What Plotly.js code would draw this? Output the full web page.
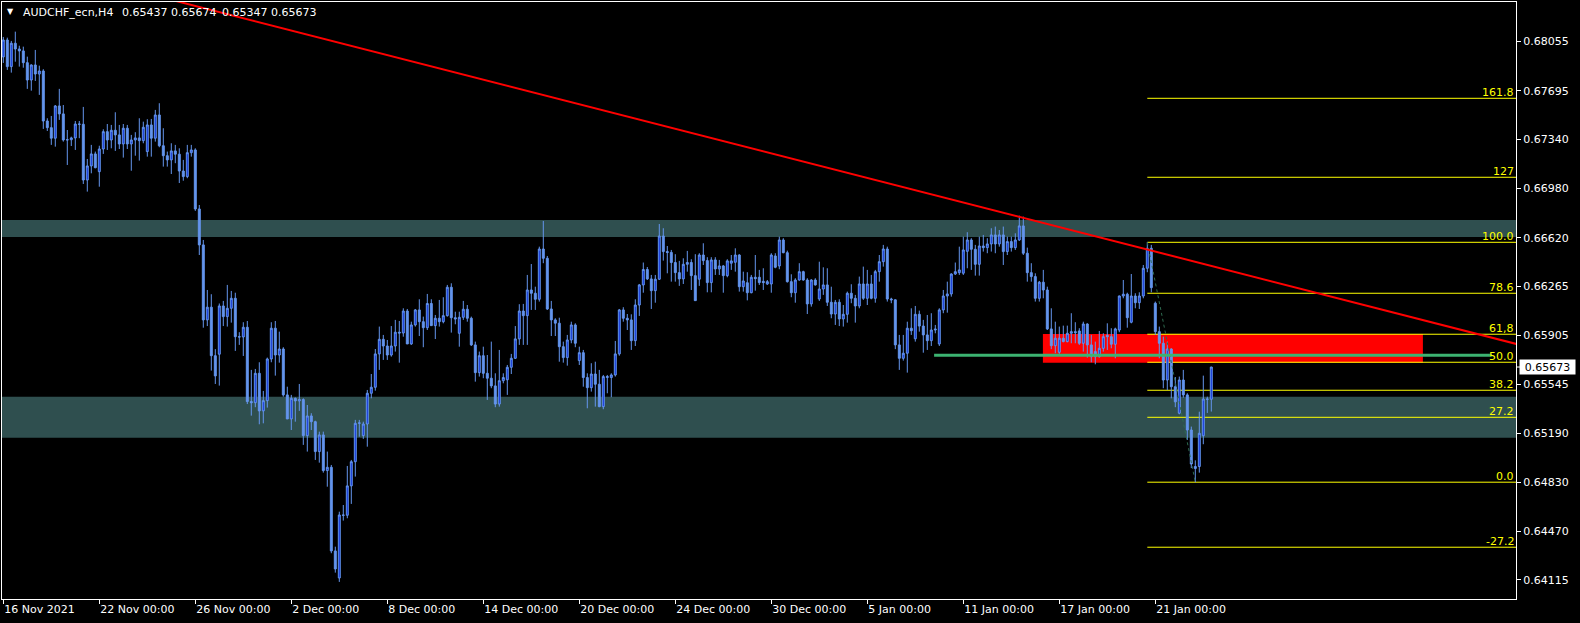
<!DOCTYPE html>
<html><head><meta charset="utf-8">
<script src="https://cdn.plot.ly/plotly-3.0.1.min.js"></script>
<style>html,body{margin:0;padding:0;background:#000;overflow:hidden}#chart{width:1580px;height:623px}</style>
</head><body><div id="chart"></div>
<script>
const symbolName = "AUDCHF_ecn,H4";
const openPrices = [0.67943,0.68067,0.67872,0.68043,0.68001,0.67987,0.67901,0.67774,0.67884,0.67818,
0.67840,0.67474,0.67425,0.67348,0.67584,0.67526,0.67335,0.67337,0.67350,0.67452,
0.67450,0.67042,0.67145,0.67233,0.67103,0.67269,0.67396,0.67335,0.67406,0.67372,
0.67306,0.67421,0.67306,0.67335,0.67350,0.67330,0.67250,0.67445,0.67348,0.67518,
0.67293,0.67220,0.67189,0.67255,0.67231,0.67108,0.67067,0.67242,0.67262,0.66830,
0.66567,0.66018,0.66111,0.65756,0.65767,0.66120,0.66042,0.66103,0.66176,0.65895,
0.65893,0.65964,0.65420,0.65412,0.65627,0.65352,0.65427,0.65732,0.65957,0.65761,
0.65805,0.65469,0.65293,0.65444,0.65425,0.65435,0.65171,0.65315,0.65273,0.65054,
0.65176,0.64915,0.64939,0.64327,0.64129,0.64590,0.64588,0.64803,0.64980,0.65261,
0.65171,0.65256,0.65481,0.65525,0.65769,0.65876,0.65827,0.65761,0.65827,0.65928,
0.65922,0.66083,0.65842,0.65981,0.66091,0.66005,0.65961,0.66138,0.65976,0.66030,
0.66005,0.66049,0.66257,0.66034,0.65920,0.66037,0.66096,0.66030,0.65835,0.65632,
0.65756,0.65627,0.65591,0.65535,0.65402,0.65573,0.65580,0.65671,0.65737,0.65879,
0.66083,0.66049,0.66237,0.66213,0.66169,0.66537,0.66469,0.66098,0.66018,0.65994,
0.65822,0.65742,0.65871,0.65981,0.65720,0.65778,0.65596,0.65522,0.65622,0.65547,
0.65383,0.65596,0.65596,0.65615,0.65769,0.66091,0.66030,0.66018,0.65866,0.66127,
0.66274,0.66387,0.66318,0.66232,0.66316,0.66632,0.66518,0.66512,0.66438,0.66364,
0.66318,0.66425,0.66438,0.66342,0.66316,0.66493,0.66452,0.66291,0.66457,0.66391,
0.66413,0.66342,0.66433,0.66440,0.66493,0.66261,0.66290,0.66217,0.66330,0.66330,
0.66300,0.66281,0.66281,0.66486,0.66413,0.66603,0.66510,0.66298,0.66217,0.66310,
0.66371,0.66310,0.66135,0.66310,0.66171,0.66244,0.66274,0.66147,0.66061,0.66147,
0.66025,0.66059,0.66213,0.66176,0.66120,0.66281,0.66176,0.66281,0.66176,0.66371,
0.66444,0.66537,0.66171,0.66165,0.65835,0.65737,0.65774,0.65957,0.65880,0.66059,
0.65973,0.65908,0.65866,0.65944,0.65842,0.66091,0.66193,0.66208,0.66354,0.66364,
0.66360,0.66520,0.66603,0.66535,0.66425,0.66559,0.66547,0.66574,0.66640,0.66574,
0.66640,0.66518,0.66591,0.66547,0.66603,0.66706,0.66506,0.66364,0.66335,0.66176,
0.66294,0.66237,0.65952,0.65829,0.65781,0.65884,0.65859,0.65920,0.65932,0.65937,
0.65847,0.65988,0.65835,0.65786,0.65749,0.65810,0.65905,0.65895,0.65840,0.65944,
0.66193,0.66206,0.66001,0.66193,0.66144,0.66193,0.66396,0.66542,0.66140,0.65932,
0.65847,0.65578,0.65805,0.65529,0.65335,0.65578,0.65469,0.65212,0.64930,0.64945,
0.65170,0.65439,0.65437];
const highPrices = [0.68089,0.68084,0.68060,0.68128,0.68025,0.68018,0.67945,0.67889,0.67994,0.67879,
0.67853,0.67494,0.67511,0.67591,0.67709,0.67591,0.67408,0.67359,0.67474,0.67474,
0.67577,0.67196,0.67299,0.67250,0.67293,0.67413,0.67452,0.67445,0.67538,0.67445,
0.67452,0.67445,0.67372,0.67392,0.67494,0.67469,0.67487,0.67489,0.67555,0.67604,
0.67421,0.67250,0.67311,0.67299,0.67274,0.67189,0.67299,0.67299,0.67274,0.66859,
0.66603,0.66237,0.66206,0.65804,0.66138,0.66157,0.66274,0.66230,0.66217,0.65928,
0.66001,0.66010,0.65652,0.65659,0.65708,0.65498,0.65742,0.66001,0.66010,0.65932,
0.65818,0.65529,0.65469,0.65450,0.65549,0.65444,0.65395,0.65335,0.65280,0.65200,
0.65200,0.65054,0.64956,0.64358,0.64614,0.64663,0.64949,0.64993,0.65286,0.65286,
0.65273,0.65505,0.65622,0.65805,0.65969,0.65908,0.65871,0.65973,0.66018,0.66010,
0.66103,0.66098,0.66005,0.66098,0.66169,0.66042,0.66208,0.66169,0.66054,0.66164,
0.66184,0.66274,0.66286,0.66078,0.66078,0.66157,0.66127,0.66042,0.65859,0.65786,
0.65822,0.65761,0.65859,0.65627,0.65798,0.65627,0.65688,0.65769,0.65973,0.66133,
0.66135,0.66347,0.66427,0.66261,0.66554,0.66742,0.66486,0.66157,0.66030,0.66034,
0.65859,0.65908,0.66005,0.65993,0.65822,0.65798,0.65627,0.65701,0.65712,0.65652,
0.65615,0.65615,0.65627,0.65864,0.66098,0.66111,0.66061,0.66059,0.66169,0.66281,
0.66438,0.66405,0.66347,0.66347,0.66720,0.66689,0.66559,0.66530,0.66499,0.66450,
0.66469,0.66523,0.66462,0.66499,0.66506,0.66579,0.66477,0.66477,0.66477,0.66457,
0.66420,0.66462,0.66493,0.66542,0.66499,0.66371,0.66367,0.66347,0.66493,0.66384,
0.66396,0.66310,0.66506,0.66506,0.66627,0.66616,0.66525,0.66352,0.66323,0.66433,
0.66378,0.66323,0.66316,0.66323,0.66444,0.66403,0.66396,0.66261,0.66164,0.66169,
0.66127,0.66225,0.66279,0.66201,0.66335,0.66408,0.66384,0.66347,0.66384,0.66493,
0.66567,0.66554,0.66180,0.66168,0.65908,0.65908,0.66005,0.66103,0.66120,0.66086,
0.66018,0.66054,0.66067,0.65981,0.66103,0.66237,0.66298,0.66359,0.66438,0.66554,
0.66627,0.66660,0.66616,0.66567,0.66627,0.66640,0.66616,0.66689,0.66701,0.66676,
0.66701,0.66627,0.66627,0.66652,0.66781,0.66774,0.66547,0.66433,0.66359,0.66303,
0.66384,0.66261,0.66103,0.66005,0.65969,0.65976,0.65976,0.66067,0.66001,0.65957,
0.66005,0.65993,0.65908,0.65859,0.65937,0.65920,0.65993,0.65957,0.65961,0.66196,
0.66310,0.66217,0.66354,0.66213,0.66220,0.66420,0.66587,0.66567,0.66152,0.65969,
0.65895,0.65859,0.65810,0.65600,0.65603,0.65652,0.65481,0.65237,0.64990,0.65346,
0.65610,0.65456,0.65674];
const lowPrices = [0.67899,0.67848,0.67828,0.67908,0.67872,0.67864,0.67709,0.67696,0.67767,0.67665,
0.67416,0.67401,0.67299,0.67286,0.67482,0.67323,0.67152,0.67291,0.67262,0.67348,
0.67013,0.66957,0.67091,0.67128,0.66993,0.67233,0.67262,0.67274,0.67255,0.67269,
0.67206,0.67269,0.67110,0.67220,0.67184,0.67311,0.67213,0.67213,0.67323,0.67282,
0.67140,0.67140,0.67086,0.67165,0.67020,0.67037,0.67055,0.67213,0.66816,0.66493,
0.65961,0.65973,0.65647,0.65549,0.65537,0.65973,0.65969,0.65998,0.65791,0.65835,
0.65754,0.65402,0.65317,0.65379,0.65254,0.65261,0.65376,0.65708,0.65610,0.65705,
0.65456,0.65293,0.65212,0.65273,0.65352,0.65103,0.65054,0.65212,0.64993,0.64973,
0.64900,0.64797,0.64310,0.64168,0.64100,0.64549,0.64566,0.64671,0.64871,0.65163,
0.65147,0.65090,0.65444,0.65500,0.65652,0.65725,0.65725,0.65749,0.65786,0.65705,
0.65895,0.65842,0.65835,0.65969,0.65900,0.65818,0.65944,0.65976,0.65878,0.65969,
0.65993,0.66042,0.65925,0.65986,0.65822,0.66018,0.66005,0.65827,0.65566,0.65603,
0.65591,0.65432,0.65518,0.65379,0.65383,0.65554,0.65469,0.65622,0.65732,0.65835,
0.65835,0.65835,0.66091,0.66091,0.66152,0.66433,0.66091,0.65900,0.65900,0.65712,
0.65705,0.65683,0.65847,0.65818,0.65688,0.65529,0.65371,0.65493,0.65383,0.65379,
0.65364,0.65481,0.65452,0.65603,0.65756,0.66005,0.65944,0.65798,0.65827,0.66047,
0.66217,0.66310,0.66098,0.66144,0.66310,0.66452,0.66359,0.66298,0.66298,0.66267,
0.66281,0.66371,0.66237,0.66159,0.66267,0.66420,0.66220,0.66220,0.66347,0.66347,
0.66217,0.66330,0.66384,0.66371,0.66225,0.66225,0.66161,0.66213,0.66232,0.66274,
0.66237,0.66274,0.66217,0.66396,0.66389,0.66506,0.66291,0.66184,0.66144,0.66305,
0.66305,0.66061,0.66115,0.66269,0.66157,0.66201,0.66120,0.66030,0.65981,0.65973,
0.65969,0.65998,0.66140,0.65998,0.66103,0.66164,0.66127,0.66169,0.66144,0.66298,
0.66408,0.66152,0.66140,0.65804,0.65652,0.65720,0.65632,0.65908,0.65859,0.65932,
0.65778,0.65798,0.65827,0.65920,0.65827,0.66067,0.66071,0.66188,0.66347,0.66347,
0.66347,0.66396,0.66384,0.66342,0.66342,0.66518,0.66506,0.66518,0.66506,0.66554,
0.66420,0.66493,0.66518,0.66530,0.66596,0.66493,0.66298,0.66298,0.66152,0.66152,
0.66176,0.65944,0.65804,0.65774,0.65769,0.65854,0.65854,0.65847,0.65847,0.65835,
0.65786,0.65742,0.65708,0.65693,0.65742,0.65786,0.65798,0.65810,0.65737,0.65928,
0.66176,0.65961,0.65993,0.66103,0.66098,0.66176,0.66367,0.66220,0.65908,0.65737,
0.65518,0.65505,0.65444,0.65379,0.65327,0.65449,0.65139,0.64933,0.64830,0.64900,
0.65108,0.65337,0.65347];
const closePrices = [0.68067,0.67872,0.68043,0.68001,0.67987,0.67901,0.67774,0.67884,0.67818,0.67840,
0.67474,0.67425,0.67348,0.67584,0.67526,0.67335,0.67337,0.67350,0.67452,0.67450,
0.67042,0.67145,0.67233,0.67132,0.67269,0.67396,0.67335,0.67406,0.67372,0.67306,
0.67421,0.67306,0.67335,0.67350,0.67330,0.67428,0.67445,0.67348,0.67518,0.67293,
0.67220,0.67189,0.67255,0.67231,0.67108,0.67067,0.67242,0.67262,0.66830,0.66567,
0.66018,0.66111,0.65756,0.65608,0.66120,0.66042,0.66103,0.66176,0.65895,0.65893,
0.65964,0.65420,0.65412,0.65627,0.65352,0.65427,0.65732,0.65957,0.65761,0.65805,
0.65469,0.65293,0.65444,0.65425,0.65435,0.65171,0.65315,0.65273,0.65054,0.65176,
0.64915,0.64939,0.64327,0.64195,0.64590,0.64588,0.64803,0.64980,0.65261,0.65264,
0.65256,0.65481,0.65525,0.65769,0.65876,0.65827,0.65761,0.65827,0.65928,0.65922,
0.66083,0.65842,0.65981,0.66091,0.66005,0.65961,0.66138,0.65976,0.66030,0.66005,
0.66049,0.66257,0.66034,0.66025,0.66037,0.66096,0.66030,0.65835,0.65632,0.65756,
0.65627,0.65591,0.65535,0.65402,0.65573,0.65596,0.65671,0.65737,0.65879,0.66083,
0.66049,0.66237,0.66213,0.66169,0.66537,0.66469,0.66098,0.66018,0.65994,0.65822,
0.65742,0.65871,0.65981,0.65847,0.65778,0.65596,0.65522,0.65622,0.65547,0.65383,
0.65603,0.65603,0.65615,0.65769,0.66091,0.66030,0.66018,0.65866,0.66127,0.66274,
0.66387,0.66318,0.66232,0.66316,0.66632,0.66518,0.66512,0.66438,0.66364,0.66318,
0.66425,0.66438,0.66342,0.66159,0.66493,0.66452,0.66291,0.66457,0.66391,0.66413,
0.66342,0.66450,0.66450,0.66493,0.66261,0.66303,0.66217,0.66330,0.66320,0.66291,
0.66291,0.66298,0.66493,0.66403,0.66603,0.66510,0.66298,0.66217,0.66310,0.66371,
0.66310,0.66135,0.66310,0.66274,0.66244,0.66274,0.66147,0.66061,0.66147,0.66025,
0.66059,0.66213,0.66176,0.66120,0.66281,0.66176,0.66281,0.66176,0.66371,0.66444,
0.66537,0.66171,0.66165,0.65835,0.65737,0.65774,0.65957,0.65939,0.66059,0.65973,
0.65908,0.65866,0.65944,0.65950,0.66091,0.66193,0.66208,0.66354,0.66371,0.66384,
0.66530,0.66603,0.66535,0.66425,0.66559,0.66547,0.66574,0.66640,0.66574,0.66640,
0.66518,0.66591,0.66547,0.66603,0.66706,0.66506,0.66364,0.66335,0.66176,0.66294,
0.66237,0.65952,0.65829,0.65884,0.65884,0.65859,0.65920,0.65932,0.65925,0.65847,
0.65988,0.65835,0.65749,0.65749,0.65810,0.65895,0.65895,0.65840,0.65952,0.66193,
0.66206,0.66034,0.66193,0.66144,0.66193,0.66396,0.66542,0.66254,0.65932,0.65847,
0.65578,0.65805,0.65529,0.65418,0.65578,0.65469,0.65212,0.64963,0.64945,0.65188,
0.65439,0.65437,0.65673];

const dateTickBars = [0,24,48,72,96,120,144,168,192,216,240,264,288];
const dateTickLabels = ["16 Nov 2021","22 Nov 00:00","26 Nov 00:00","2 Dec 00:00","8 Dec 00:00","14 Dec 00:00","20 Dec 00:00","24 Dec 00:00","30 Dec 00:00","5 Jan 00:00","11 Jan 00:00","17 Jan 00:00","21 Jan 00:00"];
const priceTicks = [0.68055,0.67695,0.67340,0.66980,0.66620,0.66265,0.65905,0.65545,0.65190,0.64830,0.64470,0.64115];
const priceTickLabels = ["0.68055","0.67695","0.67340","0.66980","0.66620","0.66265","0.65905","0.65545","0.65190","0.64830","0.64470","0.64115"];

const fibLabels = ["161.8","127","100.0","78.6","61,8","50.0","38.2","27.2","0.0","-27.2"];
const fibPrices = [0.67640,0.67062,0.66586,0.66213,0.65913,0.65708,0.65503,0.65305,0.64830,0.64354];
const fibAnchorBars = [286, 298];
const fibAnchorPrices = [0.66586, 0.64830];

const zoneLows = [0.65156, 0.66625];
const zoneHighs = [0.65456, 0.66750];
const redBoxBars = [259.9, 354.9];
const redBoxPrices = [0.65705, 0.65915];
const greenLineBars = [232.7, 372.1];
const greenLinePrice = 0.65759;
const trendBars = [40, 380];
const trendPrices = [0.68376, 0.65829];

const FONT = "DejaVu Sans, Verdana, sans-serif";
const N = closePrices.length;
const barIndex = closePrices.map((_, i) => i);
const xRange = [-0.325, 378.175];
const yRange = [0.63975, 0.68345];

const traces = [
  {
    type: 'candlestick', x: barIndex,
    open: openPrices, high: highPrices, low: lowPrices, close: closePrices,
    increasing: {line: {color: '#6495ED', width: 1}, fillcolor: '#0F30D8'},
    decreasing: {line: {color: '#6495ED', width: 1}, fillcolor: '#6495ED'},
    whiskerwidth: 0, hoverinfo: 'skip', showlegend: false
  },
  {
    type: 'scatter', mode: 'lines', x: fibAnchorBars, y: fibAnchorPrices,
    line: {color: '#2E6B50', width: 1, dash: 'dot'}, hoverinfo: 'skip', showlegend: false
  },
  {
    type: 'scatter', mode: 'lines', x: greenLineBars, y: [greenLinePrice, greenLinePrice],
    line: {color: '#3CB371', width: 3}, hoverinfo: 'skip', showlegend: false
  },
  {
    type: 'scatter', mode: 'lines', x: trendBars, y: trendPrices,
    line: {color: '#FF0000', width: 2}, hoverinfo: 'skip', showlegend: false
  }
];

const shapes = [];
zoneLows.forEach((lo, k) => {
  shapes.push({type: 'rect', xref: 'paper', yref: 'y', x0: 0, x1: 1, y0: lo, y1: zoneHighs[k],
    fillcolor: '#2F4F4F', line: {width: 0}, layer: 'below'});
});
shapes.push({type: 'rect', xref: 'x', yref: 'y', x0: redBoxBars[0], x1: redBoxBars[1],
  y0: redBoxPrices[0], y1: redBoxPrices[1], fillcolor: '#FF0000', line: {width: 0}, layer: 'below'});
fibPrices.forEach(p => {
  shapes.push({type: 'line', xref: 'x', yref: 'y', x0: fibAnchorBars[0], x1: 1000, y0: p, y1: p,
    line: {color: '#FFFF00', width: 1}, layer: 'below'});
});
shapes.push({type: 'line', xref: 'paper', yref: 'y', x0: 1, x1: 1.0027, y0: closePrices[N-1], y1: closePrices[N-1],
  line: {color: '#FFFFFF', width: 1}, layer: 'above'});

const annotations = [];
fibLabels.forEach((t, k) => {
  annotations.push({xref: 'paper', yref: 'y', x: 1, y: fibPrices[k], xanchor: 'right', yanchor: 'bottom',
    text: t, showarrow: false, xshift: -1, yshift: -2, borderpad: 0,
    font: {family: FONT, size: 11, color: '#FFFF00'}});
});
// header: symbol and the last bar's O H L C, each placed where it sits in the reference
const headerParts = [symbolName].concat([openPrices[N-1], highPrices[N-1], lowPrices[N-1], closePrices[N-1]].map(v => v.toFixed(5)));
const headerLeft = [20, 119, 168, 219, 268];
headerParts.forEach((t, k) => {
  annotations.push({xref: 'paper', yref: 'paper', x: 0, y: 1, xanchor: 'left', yanchor: 'top',
    xshift: headerLeft[k], yshift: -3, text: t, showarrow: false, borderpad: 0,
    font: {family: FONT, size: 11, color: '#FFFFFF'}});
});
annotations.push({xref: 'paper', yref: 'paper', x: 0, y: 1, xanchor: 'left', yanchor: 'top',
  xshift: 4, yshift: -4, text: '\u25BC', showarrow: false, borderpad: 0,
  font: {family: FONT, size: 8, color: '#FFFFFF'}});
annotations.push({xref: 'paper', yref: 'y', x: 1, y: closePrices[N-1], xanchor: 'left', yanchor: 'middle',
  xshift: 3, text: closePrices[N-1].toFixed(5), showarrow: false, bgcolor: '#FFFFFF', borderpad: 0,
  width: 55, height: 14, align: 'center',
  font: {family: FONT, size: 11, color: '#000000'}});

const layout = {
  width: 1580, height: 623,
  margin: {l: 2, r: 64, t: 2, b: 24, pad: 0},
  paper_bgcolor: '#000000', plot_bgcolor: '#000000',
  showlegend: false,
  xaxis: {
    range: xRange, rangeslider: {visible: false}, showgrid: false, zeroline: false,
    tickmode: 'array', tickvals: dateTickBars, ticktext: dateTickLabels,
    ticks: 'outside', ticklen: 4, tickcolor: '#FFFFFF', tickwidth: 1,
    ticklabelposition: 'outside right',
    tickfont: {family: FONT, size: 11, color: '#FFFFFF'},
    showline: true, mirror: true, linecolor: '#FFFFFF', linewidth: 1, fixedrange: true
  },
  yaxis: {
    range: yRange, side: 'right', showgrid: false, zeroline: false,
    tickmode: 'array', tickvals: priceTicks, ticktext: priceTickLabels,
    ticks: 'outside', ticklen: 4, tickcolor: '#FFFFFF', tickwidth: 1,
    tickfont: {family: FONT, size: 11, color: '#FFFFFF'},
    showline: true, mirror: true, linecolor: '#FFFFFF', linewidth: 1, fixedrange: true
  },
  shapes: shapes,
  annotations: annotations
};

Plotly.newPlot('chart', traces, layout, {displayModeBar: false, staticPlot: true});
</script>
</body></html>
